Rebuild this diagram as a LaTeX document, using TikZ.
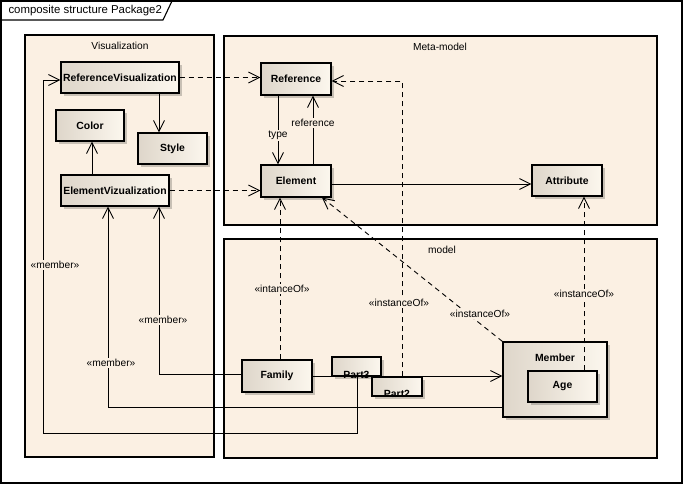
\documentclass[tikz,border=0pt]{standalone}
\usepackage{fontspec}
\setmainfont{Liberation Sans}
\usetikzlibrary{arrows.meta,shadows}
\definecolor{pkg}{RGB}{251,240,227}
\definecolor{nl}{RGB}{222,214,202}
\definecolor{nr}{RGB}{252,247,238}
\begin{document}
\begin{tikzpicture}[x=1bp,y=-1bp,
  font=\fontsize{10.2bp}{12bp}\selectfont,
  pkgbox/.style={draw, line width=1.1bp, fill=pkg},
  cls/.style={draw, line width=1.1bp, left color=nl, right color=nr, inner sep=0pt,
     font=\fontsize{10.4bp}{12bp}\selectfont\bfseries,
     drop shadow={shadow xshift=3bp, shadow yshift=-3bp, fill=black, opacity=.2}},
  conn/.style={line width=0.9bp},
  dsh/.style={line width=0.9bp, dash pattern=on 5bp off 4bp},
  arr/.style={-{Straight Barb[length=11bp,width=11bp,line width=0.9bp]}},
  lbl/.style={fill=pkg, inner sep=1bp}]
\useasboundingbox (0,0) rectangle (683,484);
% outer frame
\draw[line width=1.1bp, fill=white] (1,1) rectangle (682,483);
\draw[line width=1.1bp] (1,20) -- (163,20) -- (172,1);
\node[anchor=west, font=\fontsize{11.4bp}{12bp}\selectfont] (title) at (5,10.5) {composite structure Package2};
% packages
\draw[pkgbox] (25,35) rectangle (214,457);
\node (pvis) at (120,45.5) {Visualization};
\draw[pkgbox] (224,36) rectangle (657,225);
\node (pmeta) at (440,46.5) {Meta-model};
\draw[pkgbox] (224,239) rectangle (657,458);
\node (pmodel) at (442,250) {model};
% classes
\node[cls, minimum width=118bp, minimum height=31bp] (RV) at (120,77.5) {ReferenceVisualization};
\node[cls, minimum width=68bp, minimum height=31bp] (Color) at (90,125.5) {Color};
\node[cls, minimum width=69bp, minimum height=31bp] (Style) at (172.5,148.5) {Style};
\node[cls, minimum width=108bp, minimum height=31bp] (EV) at (115,190.5) {ElementVizualization};
\node[cls, minimum width=70bp, minimum height=32bp] (Reference) at (296,79) {Reference};
\node[cls, minimum width=70bp, minimum height=32bp] (Element) at (296,181) {Element};
\node[cls, minimum width=70bp, minimum height=31bp] (Attribute) at (567,180.5) {Attribute};
\node[cls, minimum width=70bp, minimum height=32bp] (Family) at (277,376) {Family};
\node[cls, minimum width=49bp, minimum height=19bp] (Part3) at (356.5,366.5) {};
\node[cls, minimum width=50bp, minimum height=19bp] (Part2) at (397,386.5) {};
\node[cls, minimum width=104bp, minimum height=75bp] (Member) at (555,379.5) {};
\node[font=\fontsize{10.4bp}{12bp}\selectfont\bfseries] (memberlbl) at (555,358) {Member};
\node[cls, minimum width=69bp, minimum height=31bp] (Age) at (562.5,386.5) {Age};
\node[anchor=base, font=\fontsize{10.4bp}{12bp}\selectfont\bfseries, inner sep=0pt] (p3lbl) at (356.5,378) {Part3};
\node[anchor=base, font=\fontsize{10.4bp}{12bp}\selectfont\bfseries, inner sep=0pt] (p2lbl) at (397,397.5) {Part2};
% meta-model connectors
\draw[dsh, arr] (RV.east) -- (RV.east -| Reference.west);
\draw[conn, arr] ([xshift=39bp]RV.south) -- ([xshift=39bp]RV.south |- Style.north);
\draw[conn, arr] ([xshift=-23bp]EV.north) -- ([xshift=-23bp]EV.north |- Color.south);
\draw[dsh, arr] (EV.east) -- (EV.east -| Element.west);
\draw[conn, arr] ([xshift=-18bp]Reference.south) -- node[lbl, pos=0.58] (ltype) {type} ([xshift=-18bp]Reference.south |- Element.north);
\draw[conn, arr] ([xshift=17bp]Element.north) -- node[lbl, pos=0.6] (lref) {reference} ([xshift=17bp]Element.north |- Reference.south);
\draw[conn, arr] ([yshift=-3bp]Element.east) -- ([yshift=-3bp]Element.east -| Attribute.west);
% instanceOf
\draw[dsh, arr] ([xshift=5bp]Part2.north) |- ([yshift=-2bp]Reference.east);
\node[lbl] (li1) at (399,303) {«instanceOf»};
\draw[dsh, arr] ([xshift=3bp]Family.north) -- ([xshift=3bp]Family.north |- Element.south);
\node[lbl] (li2) at (282,289) {«intanceOf»};
\draw[dsh, arr] (Member.north west) -- ([xshift=26bp]Element.south);
\node[lbl] (li3) at (480,314) {«instanceOf»};
\draw[dsh, arr] ([xshift=21.5bp]Age.north) -- ([xshift=21.5bp]Age.north |- Attribute.south);
\node[lbl] (li4) at (584,294) {«instanceOf»};
% model connectors
\draw[conn, arr] (Family.east) -- (Family.east -| Member.west);
\draw[conn, arr] ([yshift=2bp]Family.west) -| ([xshift=44bp]EV.south);
\node[lbl] (lm1) at (163,320) {«member»};
\draw[conn, arr] ([yshift=-27.5bp]Member.west) -| ([xshift=-7bp]EV.south);
\node[lbl] (lm2) at (111,363) {«member»};
\coordinate (c1) at (357,433);
\coordinate (c2) at (43,433);
\draw[conn, arr] (Part3.south -| c1) -- (c1) -- (c2) |- ([yshift=-2.5bp]RV.west);
\node[lbl] (lm3) at (55,265) {«member»};
\end{tikzpicture}
\end{document}
